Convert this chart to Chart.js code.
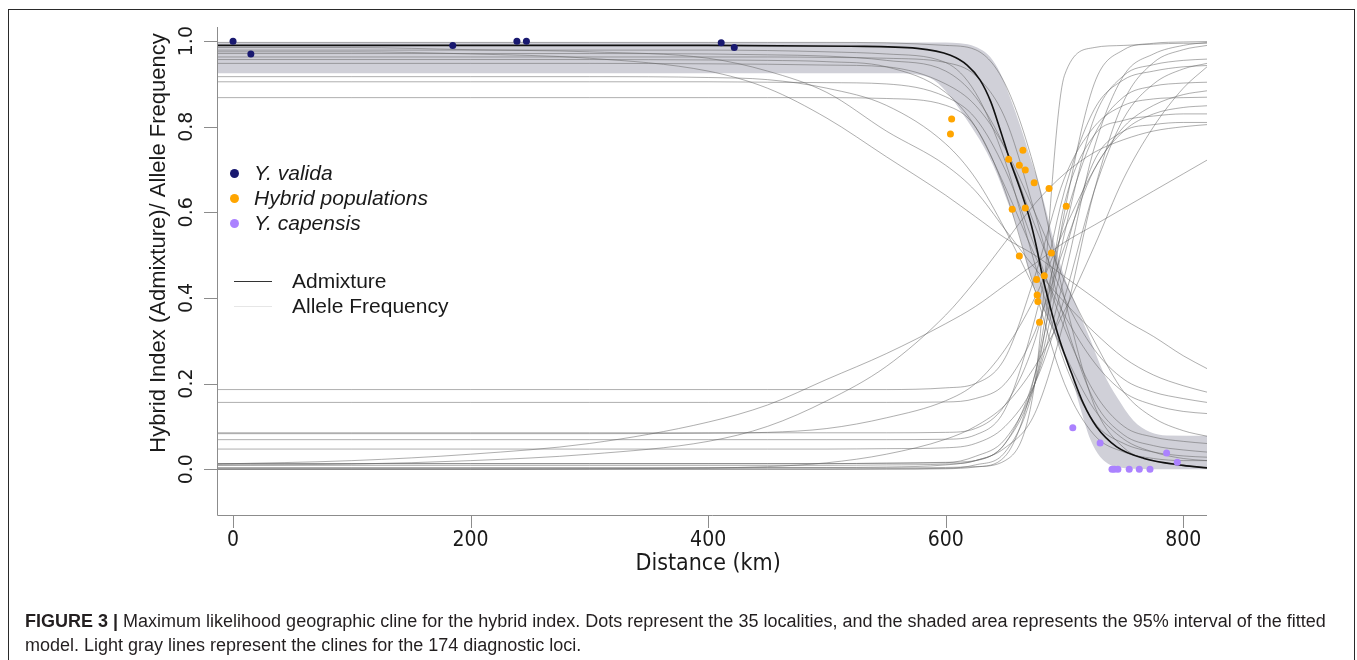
<!DOCTYPE html>
<html>
<head>
<meta charset="utf-8">
<script src="https://cdn.jsdelivr.net/npm/chart.js@4.4.1/dist/chart.umd.min.js"></script>
<style>
  html, body { margin: 0; padding: 0; background: #fff; }
  #wrap { position: relative; width: 1357px; height: 660px; overflow: hidden; }
  #cv { position: absolute; left: 0; top: 0; }
  .frame { position: absolute; left: 8px; top: 9px; width: 1347px; height: 700px; border: 1px solid #2a2a2a; box-sizing: border-box; }
  .legend { position: absolute; left: 0; top: 0; font-family: 'Liberation Sans', Arial, sans-serif; font-size: 21px; color: #1a1a1a; }
  .legend .row { position: absolute; white-space: nowrap; line-height: 24px; }
  .legend .dot { position: absolute; width: 9px; height: 9px; border-radius: 50%; }
  .legend .ln { position: absolute; height: 1px; width: 38px; }
  .legend i { font-style: italic; }
  .caption { position: absolute; left: 25px; top: 609px; font-family: 'Liberation Sans', Arial, sans-serif; font-size: 18px; line-height: 24px; color: #231f20; white-space: nowrap; }
  .caption b { font-weight: bold; }
</style>
</head>
<body>
<div id="wrap">
  <canvas id="cv" width="1357" height="660"></canvas>
  <div class="frame"></div>
  <div class="legend">
    <span class="dot" style="left:230px;top:169px;background:#191970"></span>
    <span class="row" style="left:254px;top:161px"><i>Y. valida</i></span>
    <span class="dot" style="left:230px;top:194px;background:#ffa500"></span>
    <span class="row" style="left:254px;top:186px"><i>Hybrid populations</i></span>
    <span class="dot" style="left:230px;top:219px;background:#ab82ff"></span>
    <span class="row" style="left:254px;top:211px"><i>Y. capensis</i></span>
    <span class="ln" style="left:234px;top:281px;background:#333"></span>
    <span class="row" style="left:292px;top:269px">Admixture</span>
    <span class="ln" style="left:234px;top:306px;background:#e6e6e6"></span>
    <span class="row" style="left:292px;top:294px">Allele Frequency</span>
  </div>
  <div class="caption"><b>FIGURE 3 |</b> Maximum likelihood geographic cline for the hybrid index. Dots represent the 35 localities, and the shaded area represents the 95% interval of the fitted<br>model. Light gray lines represent the clines for the 174 diagnostic loci.</div>
</div>
<script>
// axis ticks
const xTicks = [0, 200, 400, 600, 800];
const yTicks = [0, 0.2, 0.4, 0.6, 0.8, 1.0];
const yTickLabels = ['0.0', '0.2', '0.4', '0.6', '0.8', '1.0'];

// sampled localities (distance km, hybrid index)
const validaKm = [0, 15, 185, 239, 247, 411, 422];
const validaY = [1.0, 0.97, 0.99, 1.0, 1.0, 0.996, 0.985];
const hybridKm = [605, 604, 665, 653, 662, 667, 674.5, 687, 701.5, 656, 667, 662, 689, 683, 676.5, 677, 677.6, 679];
const hybridY = [0.818, 0.783, 0.745, 0.724, 0.710, 0.699, 0.669, 0.656, 0.614, 0.607, 0.610, 0.498, 0.505, 0.452, 0.443, 0.407, 0.392, 0.343];
const capensisKm = [707, 730, 786, 795, 740, 742, 745, 754.5, 763, 772];
const capensisY = [0.097, 0.061, 0.038, 0.016, 0, 0, 0, 0, 0, 0];

// admixture cline
const admixKm = [-14, 200, 400, 520, 576, 604, 618, 629, 638, 646, 654, 663, 671, 677, 681, 688, 696, 706, 716, 727, 744, 767, 800, 820];
const admixY = [0.99, 0.99, 0.99, 0.988, 0.983, 0.967, 0.944, 0.909, 0.858, 0.792, 0.722, 0.652, 0.582, 0.512, 0.457, 0.379, 0.301, 0.224, 0.153, 0.099, 0.052, 0.025, 0.009, 0.003];

// 95% interval edges
const bandUpKm = [-14, 600, 612, 625, 637.5, 646, 654, 663, 671, 680, 690, 699, 710.5, 722, 733, 744, 758, 772, 786, 820];
const bandUpY = [0.997, 0.997, 0.995, 0.987, 0.963, 0.925, 0.870, 0.800, 0.730, 0.652, 0.545, 0.457, 0.379, 0.301, 0.224, 0.169, 0.114, 0.087, 0.079, 0.078];
const bandLoKm = [-14, 560, 576, 590, 604, 618, 632, 643, 651.5, 660, 665.5, 671, 682, 694, 705, 713, 722, 730, 744, 772, 820];
const bandLoY = [0.925, 0.925, 0.922, 0.909, 0.870, 0.815, 0.753, 0.691, 0.629, 0.566, 0.512, 0.457, 0.379, 0.301, 0.224, 0.146, 0.068, 0.029, 0.005, 0.0, 0.0];

// allele frequency clines, sampled on one distance grid
const locusKm = [-14, 100, 200, 300, 400, 450, 500, 550, 600, 625, 650, 675, 700, 725, 750, 775, 800, 820];
const locusB1 = [0.997, 0.997, 0.997, 0.997, 0.997, 0.997, 0.997, 0.996, 0.99, 0.98, 0.9, 0.7, 0.4, 0.15, 0.05, 0.02, 0.008, 0.004];
const locusB2 = [0.979, 0.979, 0.979, 0.979, 0.979, 0.978, 0.975, 0.97, 0.95, 0.88, 0.72, 0.48, 0.25, 0.11, 0.06, 0.04, 0.031, 0.028];
const locusB3 = [0.963, 0.963, 0.963, 0.963, 0.963, 0.963, 0.962, 0.96, 0.95, 0.92, 0.82, 0.6, 0.35, 0.16, 0.08, 0.055, 0.045, 0.04];
const locusB4 = [0.948, 0.948, 0.948, 0.948, 0.947, 0.946, 0.944, 0.94, 0.9, 0.85, 0.75, 0.6, 0.44, 0.3, 0.18, 0.12, 0.09, 0.077];
const locusB5 = [0.957, 0.957, 0.957, 0.957, 0.956, 0.955, 0.952, 0.94, 0.88, 0.8, 0.66, 0.5, 0.36, 0.25, 0.18, 0.15, 0.135, 0.13];
const locusB6 = [0.868, 0.868, 0.868, 0.868, 0.868, 0.868, 0.868, 0.866, 0.85, 0.8, 0.65, 0.42, 0.2, 0.08, 0.04, 0.025, 0.02, 0.02];
const locusB7 = [0.971, 0.971, 0.971, 0.971, 0.97, 0.968, 0.965, 0.955, 0.93, 0.87, 0.75, 0.57, 0.4, 0.28, 0.21, 0.18, 0.165, 0.156];
const locusB8 = [0.917, 0.917, 0.917, 0.917, 0.915, 0.91, 0.89, 0.85, 0.76, 0.68, 0.56, 0.42, 0.27, 0.14, 0.07, 0.04, 0.025, 0.02];
const locusB9 = [0.905, 0.905, 0.905, 0.905, 0.905, 0.904, 0.903, 0.9, 0.87, 0.82, 0.7, 0.52, 0.33, 0.18, 0.1, 0.075, 0.065, 0.06];
const locusC1 = [0.975, 0.975, 0.97, 0.96, 0.93, 0.89, 0.82, 0.73, 0.64, 0.59, 0.54, 0.5, 0.45, 0.4, 0.35, 0.31, 0.265, 0.235];
const locusC2 = [0.985, 0.985, 0.98, 0.975, 0.96, 0.93, 0.88, 0.79, 0.71, 0.65, 0.56, 0.47, 0.39, 0.32, 0.26, 0.22, 0.195, 0.18];
const locusD1 = [0.003, 0.003, 0.003, 0.003, 0.003, 0.003, 0.003, 0.003, 0.004, 0.006, 0.02, 0.2, 0.92, 0.985, 0.99, 0.993, 0.995, 0.995];
const locusD2 = [0, 0, 0, 0, 0, 0, 0, 0.001, 0.002, 0.01, 0.04, 0.2, 0.6, 0.9, 0.98, 0.995, 0.998, 0.999];
const locusD3 = [0.013, 0.013, 0.013, 0.013, 0.013, 0.013, 0.013, 0.014, 0.015, 0.03, 0.07, 0.2, 0.45, 0.75, 0.92, 0.97, 0.99, 0.997];
const locusD4 = [0.009, 0.009, 0.009, 0.009, 0.009, 0.009, 0.009, 0.01, 0.012, 0.02, 0.06, 0.22, 0.55, 0.82, 0.92, 0.945, 0.955, 0.958];
const locusD5 = [0.047, 0.047, 0.047, 0.047, 0.047, 0.047, 0.047, 0.048, 0.05, 0.06, 0.1, 0.2, 0.4, 0.65, 0.82, 0.9, 0.935, 0.948];
const locusD6 = [0.069, 0.069, 0.069, 0.069, 0.069, 0.069, 0.069, 0.069, 0.07, 0.08, 0.14, 0.35, 0.65, 0.84, 0.91, 0.93, 0.94, 0.943];
const locusD7 = [0.085, 0.085, 0.085, 0.085, 0.085, 0.085, 0.085, 0.085, 0.086, 0.095, 0.15, 0.3, 0.58, 0.78, 0.87, 0.895, 0.902, 0.904];
const locusD8 = [0.083, 0.083, 0.083, 0.083, 0.084, 0.086, 0.095, 0.12, 0.16, 0.2, 0.28, 0.4, 0.56, 0.7, 0.8, 0.85, 0.875, 0.884];
const locusD9 = [0.186, 0.186, 0.186, 0.186, 0.186, 0.186, 0.186, 0.186, 0.19, 0.2, 0.26, 0.45, 0.68, 0.8, 0.85, 0.865, 0.868, 0.869];
const locusD10 = [0.156, 0.156, 0.156, 0.156, 0.156, 0.156, 0.156, 0.156, 0.157, 0.165, 0.2, 0.32, 0.52, 0.7, 0.79, 0.83, 0.845, 0.849];
const locusD11 = [0, 0, 0, 0, 0, 0, 0, 0, 0.001, 0.005, 0.03, 0.22, 0.62, 0.78, 0.815, 0.825, 0.83, 0.83];
const locusD12 = [0.013, 0.013, 0.013, 0.013, 0.013, 0.013, 0.013, 0.014, 0.016, 0.02, 0.06, 0.2, 0.5, 0.72, 0.79, 0.805, 0.81, 0.81];
const locusD13 = [0.003, 0.003, 0.003, 0.003, 0.003, 0.004, 0.004, 0.005, 0.01, 0.02, 0.05, 0.13, 0.35, 0.65, 0.86, 0.95, 0.98, 0.99];
const locusD14 = [0, 0, 0, 0.001, 0.003, 0.006, 0.015, 0.035, 0.07, 0.1, 0.15, 0.24, 0.37, 0.52, 0.68, 0.8, 0.89, 0.94];
const locusI1 = [0.012, 0.02, 0.035, 0.06, 0.11, 0.15, 0.21, 0.27, 0.34, 0.38, 0.43, 0.48, 0.53, 0.57, 0.61, 0.65, 0.69, 0.722];
const locusI2 = [0.01, 0.012, 0.02, 0.035, 0.065, 0.1, 0.16, 0.24, 0.36, 0.44, 0.53, 0.62, 0.69, 0.74, 0.77, 0.79, 0.8, 0.805];

const loci = [locusB1, locusB2, locusB3, locusB4, locusB5, locusB6, locusB7, locusB8, locusB9,
  locusC1, locusC2, locusD1, locusD2, locusD3, locusD4, locusD5, locusD6, locusD7, locusD8,
  locusD9, locusD10, locusD11, locusD12, locusD13, locusD14, locusI1, locusI2];

function pts(xs, ys) { return xs.map((x, i) => ({ x, y: ys[i] })); }

const FONT_AX = "'Liberation Sans Narrow', 'DejaVu Sans Condensed', 'Liberation Sans', sans-serif";

// R-style L axes drawn on top
const rAxes = {
  id: 'rAxes',
  afterDraw(chart) {
    const { ctx, chartArea: a, scales: { x, y } } = chart;
    ctx.save();
    ctx.strokeStyle = '#8c8c8c';
    ctx.lineWidth = 1;
    ctx.beginPath();
    ctx.moveTo(a.left + 0.5, a.top);
    ctx.lineTo(a.left + 0.5, a.bottom + 0.5);
    ctx.lineTo(a.right, a.bottom + 0.5);
    xTicks.forEach(v => {
      const px = Math.round(x.getPixelForValue(v)) + 0.5;
      ctx.moveTo(px, a.bottom);
      ctx.lineTo(px, a.bottom + 13);
    });
    yTicks.forEach(v => {
      const py = Math.round(y.getPixelForValue(v)) + 0.5;
      ctx.moveTo(a.left, py);
      ctx.lineTo(a.left - 13, py);
    });
    ctx.stroke();

    ctx.fillStyle = '#1a1a1a';
    ctx.textAlign = 'center';
    ctx.textBaseline = 'middle';
    ctx.font = "21px " + FONT_AX;
    xTicks.forEach(v => ctx.fillText(String(v), x.getPixelForValue(v), 541));
    ctx.font = "23px " + FONT_AX;
    ctx.fillText('Distance (km)', x.getPixelForValue(400), 564);

    ctx.font = "19px 'DejaVu Sans', sans-serif";
    yTicks.forEach((v, i) => {
      ctx.save();
      ctx.translate(187, y.getPixelForValue(v));
      ctx.rotate(-Math.PI / 2);
      ctx.fillText(yTickLabels[i], 0, 0);
      ctx.restore();
    });
    ctx.font = "22px 'Liberation Sans', sans-serif";
    ctx.save();
    ctx.translate(159, 243);
    ctx.rotate(-Math.PI / 2);
    ctx.fillText('Hybrid Index (Admixture)/ Allele Frequency', 0, 0);
    ctx.restore();
    ctx.restore();
  }
};

const lineDs = loci.map(ys => ({
  data: pts(locusKm, ys),
  showLine: true,
  borderColor: 'rgba(95,95,95,0.5)',
  borderWidth: 1,
  pointRadius: 0,
  cubicInterpolationMode: 'monotone',
  fill: false,
  order: 3
}));

const datasets = [
  { label: 'Y. valida', data: pts(validaKm, validaY), backgroundColor: '#191970', pointRadius: 3.5, borderWidth: 0, order: 0 },
  { label: 'Hybrid populations', data: pts(hybridKm, hybridY), backgroundColor: '#ffa500', pointRadius: 3.5, borderWidth: 0, order: 0 },
  { label: 'Y. capensis', data: pts(capensisKm, capensisY), backgroundColor: '#ab82ff', pointRadius: 3.5, borderWidth: 0, order: 0 },
  { label: 'Admixture', data: pts(admixKm, admixY), showLine: true, borderColor: '#111', borderWidth: 1.6,
    pointRadius: 0, cubicInterpolationMode: 'monotone', order: 1 },
  { label: 'band upper', data: pts(bandUpKm, bandUpY), showLine: true, borderWidth: 0, borderColor: 'rgba(0,0,0,0)',
    pointRadius: 0, cubicInterpolationMode: 'monotone', fill: { target: 5 }, backgroundColor: '#d0d0d8', order: 5 },
  { label: 'band lower', data: pts(bandLoKm, bandLoY), showLine: true, borderWidth: 0, borderColor: 'rgba(0,0,0,0)',
    pointRadius: 0, cubicInterpolationMode: 'monotone', fill: false, order: 5 }
].concat(lineDs);

new Chart(document.getElementById('cv'), {
  type: 'scatter',
  data: { datasets },
  options: {
    responsive: false,
    animation: false,
    devicePixelRatio: 1,
    layout: { padding: { left: 217, right: 150, top: 27, bottom: 145 } },
    plugins: { legend: { display: false }, tooltip: { enabled: false } },
    scales: {
      x: { type: 'linear', display: false, min: -13.5, max: 820 },
      y: { type: 'linear', display: false, min: -0.107, max: 1.033 }
    }
  },
  plugins: [rAxes]
});
</script>
</body>
</html>
